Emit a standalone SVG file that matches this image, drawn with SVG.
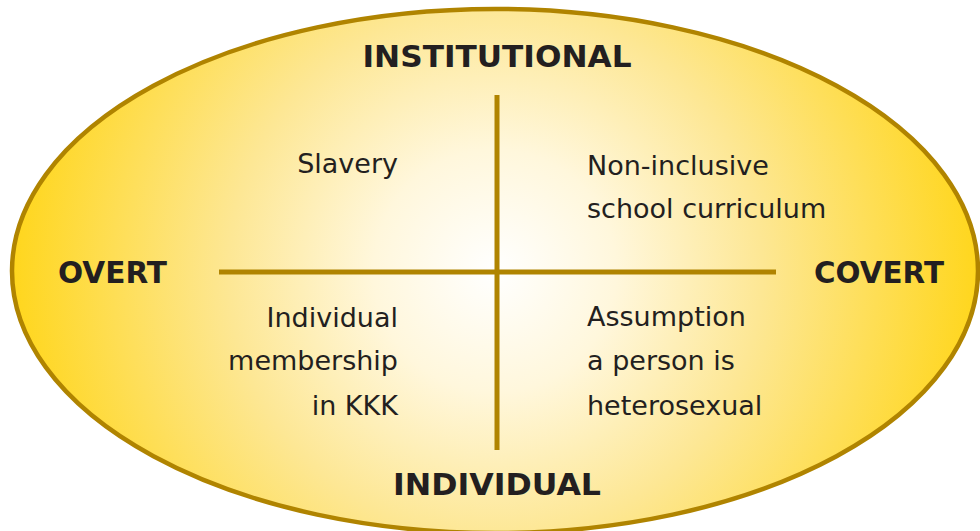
<svg xmlns="http://www.w3.org/2000/svg" width="980" height="531" viewBox="0 0 980 531">
<defs>
<radialGradient id="g" gradientUnits="userSpaceOnUse" cx="495" cy="271" r="485">
<stop offset="0" stop-color="#ffffff"/>
<stop offset="0.25" stop-color="#fff7dc"/>
<stop offset="0.55" stop-color="#fde794"/>
<stop offset="1" stop-color="#ffd61c"/>
</radialGradient>
<style>
.b{font-family:"DejaVu Sans",Verdana,sans-serif;font-weight:bold;font-size:30px;fill:#231f20}
.t{font-family:"DejaVu Sans",Verdana,sans-serif;font-size:27px;fill:#231f20}
.ln{stroke:#b08400;stroke-width:5;fill:none}
</style>
</defs>
<rect width="980" height="531" fill="#ffffff"/>
<g id="oval"><ellipse cx="495" cy="271" rx="483" ry="262" fill="url(#g)" stroke="#b08400" stroke-width="4.5"/></g>
<g id="connectors">
<line class="ln" x1="497" y1="95" x2="497" y2="450"/>
<line class="ln" x1="219" y1="272" x2="776" y2="272"/>
</g>
<g id="institutional"><text class="b" x="497" y="67" text-anchor="middle" textLength="269" lengthAdjust="spacingAndGlyphs">INSTITUTIONAL</text></g>
<g id="individual"><text class="b" x="497" y="495" text-anchor="middle" textLength="208" lengthAdjust="spacingAndGlyphs">INDIVIDUAL</text></g>
<g id="overt"><text class="b" x="58" y="283" textLength="109" lengthAdjust="spacingAndGlyphs">OVERT</text></g>
<g id="covert"><text class="b" x="814" y="283" textLength="130" lengthAdjust="spacingAndGlyphs">COVERT</text></g>
<g id="q1"><text class="t" x="398" y="173" text-anchor="end">Slavery</text></g>
<g id="q2"><text class="t" x="587" y="175">Non-inclusive</text><text class="t" x="587" y="218">school curriculum</text></g>
<g id="q3"><text class="t" x="398" y="327" text-anchor="end">Individual</text><text class="t" x="398" y="370" text-anchor="end">membership</text><text class="t" x="398" y="415" text-anchor="end">in KKK</text></g>
<g id="q4"><text class="t" x="587" y="326">Assumption</text><text class="t" x="587" y="370">a person is</text><text class="t" x="587" y="415">heterosexual</text></g>
</svg>
